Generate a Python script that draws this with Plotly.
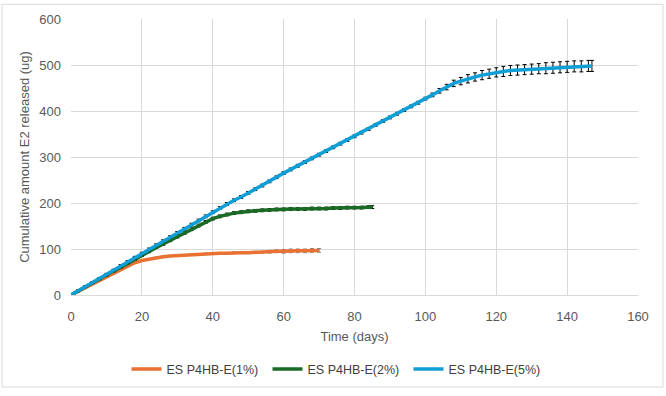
import plotly.graph_objects as go

# ---- data ----
days_1 = list(range(0, 71, 2))
amt_1 = [0, 8, 16, 24, 32, 40, 47, 55, 63, 70, 75, 78, 81, 83, 85, 86, 87, 88, 89, 90,
         90, 91, 91, 92, 92, 92, 93, 93, 94, 95, 95, 96, 96, 96, 97, 97]
err_1 = [1, 1, 1, 1, 1, 1, 1, 1, 1, 1, 1, 1, 1, 1, 1, 1, 1, 1, 1, 1,
         1, 1, 1, 2, 2, 2, 2, 2, 3, 3, 4, 4, 4, 4, 4, 4]

days_2 = list(range(0, 85, 2)) + [85]
amt_2 = [0, 9, 18, 26, 35, 43, 52, 60, 69, 77, 86, 94, 103, 111, 119, 127, 135, 143, 151, 159,
         166, 171, 175, 178, 180, 182, 183, 184, 185, 186, 186, 187, 187, 187, 188, 188, 188,
         189, 189, 190, 190, 190, 191, 191]
err_2 = [1, 1, 1, 1, 2, 2, 2, 2, 2, 2, 2, 2, 2, 3, 3, 3, 3, 3, 3, 3,
         3, 3, 3, 3, 3, 3, 3, 3, 3, 3, 3, 3, 3, 3, 3, 3, 3,
         3, 3, 3, 3, 3, 3, 3]

days_5 = list(range(0, 147, 2)) + [147]
amt_5 = [0, 9, 18, 27, 36, 45, 54, 63, 72, 81, 90, 99, 108, 117, 126, 135, 144, 153, 162, 171,
         180, 189, 198, 206, 213, 222, 230, 238, 247, 256, 265, 273, 281, 289, 297, 305, 313,
         321, 329, 337, 345, 353, 361, 370, 378, 386, 394, 402, 410, 418, 427, 435, 444, 452,
         460, 465, 470, 474, 478, 481, 484, 486, 488, 489, 490, 491, 492, 493, 494, 495, 496,
         497, 497, 498, 498]
err_5 = [1, 2, 2, 2, 2, 2, 2, 3, 3, 3, 3, 3, 3, 3, 3, 3, 3, 3, 3, 3,
         3, 3, 3, 3, 3, 3, 3, 3, 3, 3, 3, 3, 3, 3, 3, 3, 3,
         3, 3, 3, 3, 3, 3, 3, 3, 3, 3, 3, 3, 3, 3, 4, 5, 6,
         7, 8, 9, 9, 10, 10, 10, 11, 11, 11, 11, 11, 11, 12, 12, 12, 12,
         12, 12, 12, 12]

names = ["ES P4HB-E(1%)", "ES P4HB-E(2%)", "ES P4HB-E(5%)"]
colors = ["#E97132", "#196B24", "#0F9ED5"]
err_colors = ["#7F7F7F", "#000000", "#000000"]

x_ticks = [0, 20, 40, 60, 80, 100, 120, 140, 160]
y_ticks = [0, 100, 200, 300, 400, 500, 600]

FONT = "Liberation Sans"
TXT = "#595959"
GRID = "#D9D9D9"

fig = go.Figure()
for xs, ys, es, nm, c, ec in zip([days_1, days_2, days_5], [amt_1, amt_2, amt_5],
                                 [err_1, err_2, err_5], names, colors, err_colors):
    fig.add_trace(go.Scatter(
        x=xs, y=ys, name=nm, mode="lines",
        line=dict(color=c, width=3.5),
        error_y=dict(type="data", array=es, visible=True, color=ec, thickness=1, width=2),
    ))

W, H = 666, 396
ml, mr, mt, mb = 71, 28, 17, 97
pw = W - ml - mr
ph = H - mt - mb

fig.update_layout(
    width=W, height=H,
    margin=dict(l=ml, r=mr, t=mt, b=mb),
    paper_bgcolor="white", plot_bgcolor="white",
    font=dict(family=FONT, size=13, color=TXT),
    showlegend=True,
    legend=dict(orientation="h", x=(338 - ml) / pw, xanchor="center",
                y=-(375 - mt - ph) / ph, yanchor="middle",
                font=dict(family=FONT, size=12.5, color="#404040"),
                itemwidth=30, entrywidth=96, entrywidthmode="pixels", tracegroupgap=0),
    xaxis=dict(range=[0, 160], tickvals=x_ticks, showgrid=True, gridcolor=GRID, gridwidth=1,
               zeroline=False, showline=True, linecolor=GRID, ticks="", ticklabelstandoff=9,
               title=dict(text="Time (days)", font=dict(size=13, color=TXT), standoff=9),
               mirror=False),
    yaxis=dict(range=[0, 600], tickvals=y_ticks, showgrid=True, gridcolor=GRID, gridwidth=1,
               zeroline=False, showline=False, ticks="", ticklabelstandoff=9,
               title=dict(text="Cumulative amount E2 released (ug)", font=dict(size=13, color=TXT),
                          standoff=6)),
    shapes=[dict(type="rect", xref="paper", yref="paper",
                 x0=(2 - ml) / pw, x1=(663 - ml) / pw,
                 y0=-(393 - mt - ph) / ph, y1=1 + (mt - 2) / ph,
                 line=dict(color="#D9D9D9", width=1), fillcolor="rgba(0,0,0,0)", layer="below")],
)

fig.write_html("out.html")
